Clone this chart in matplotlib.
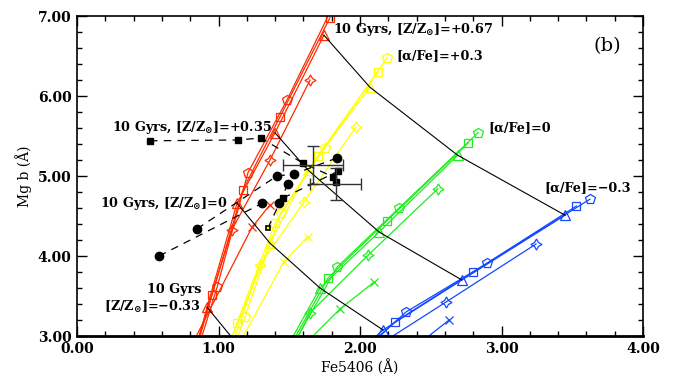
import numpy as np
import matplotlib
matplotlib.use("Agg")
import matplotlib.pyplot as plt
from matplotlib.ticker import MultipleLocator, FormatStrFormatter

plt.rcParams['font.family'] = 'DejaVu Serif'
plt.rcParams['font.weight'] = 'bold'
plt.rcParams['mathtext.fontset'] = 'dejavuserif'

# model grids, one line per age; points run through
# [Z/H] = -0.7 (off plot), -0.33, 0, +0.35, +0.67
# order of lines: 10 Gyr (triangle), square, pentagon, star, cross
red_fe = [[0.80, 0.919, 1.131, 1.399, 1.745],
          [0.82, 0.954, 1.173, 1.435, 1.788],
          [0.84, 0.990, 1.208, 1.484, 1.830],
          [0.72, 0.845, 1.095, 1.364, 1.647],
          [0.55, 0.680, 0.800, 1.237, 1.364]]
red_mg = [[2.55, 3.36, 4.66, 5.54, 6.76],
          [2.70, 3.51, 4.83, 5.74, 6.98],
          [2.75, 3.61, 5.04, 5.95, 7.20],
          [2.30, 2.90, 4.33, 5.20, 6.20],
          [1.80, 2.30, 2.85, 4.36, 4.64]]

yellow_fe = [[0.95, 1.095, 1.364, 1.632, 2.070],
             [0.98, 1.130, 1.400, 1.700, 2.127],
             [1.03, 1.187, 1.440, 1.750, 2.190],
             [0.92, 1.090, 1.293, 1.604, 1.970],
             [0.90, 1.020, 1.130, 1.463, 1.630]]
yellow_mg = [[2.40, 2.98, 4.16, 5.075, 6.11],
             [2.40, 3.16, 4.41, 5.25, 6.30],
             [2.45, 3.24, 4.54, 5.35, 6.475],
             [2.20, 2.85, 3.89, 4.675, 5.61],
             [2.00, 2.45, 2.85, 3.93, 4.24]]

green_fe = [[1.20, 1.45, 1.717, 2.135, 2.690],
            [1.25, 1.50, 1.774, 2.190, 2.763],
            [1.28, 1.53, 1.837, 2.276, 2.834],
            [1.30, 1.45, 1.647, 2.057, 2.550],
            [1.35, 1.50, 1.600, 1.860, 2.100]]
green_mg = [[1.90, 2.75, 3.60, 4.30, 5.26],
            [2.00, 2.85, 3.725, 4.44, 5.41],
            [2.05, 2.90, 3.86, 4.60, 5.54],
            [2.10, 2.60, 3.29, 4.01, 4.84],
            [2.00, 2.50, 2.88, 3.34, 3.675]]

blue_fe = [[1.50, 1.80, 2.163, 2.72, 3.449],
           [1.60, 1.90, 2.247, 2.80, 3.530],
           [1.65, 1.95, 2.325, 2.90, 3.625],
           [1.40, 1.75, 2.100, 2.608, 3.244],
           [1.70, 1.95, 2.150, 2.400, 2.630]]
blue_mg = [[1.70, 2.50, 3.075, 3.70, 4.51],
           [1.80, 2.60, 3.175, 3.80, 4.625],
           [1.85, 2.70, 3.30, 3.91, 4.71],
           [1.70, 2.30, 2.85, 3.425, 4.15],
           [1.90, 2.30, 2.60, 2.88, 3.20]]

# observed gradients (dashed tracks)
sq_track_fe = [0.516, 1.138, 1.30, 1.597, 1.81]
sq_track_mg = [5.44, 5.45, 5.475, 5.16, 4.99]
sq2_track_fe = [1.456, 1.845]
sq2_track_mg = [4.725, 5.06]
circ_a_fe = [0.58, 1.31]
circ_a_mg = [4.00, 4.66]
circ_b_fe = [0.848, 1.413, 1.533, 1.837]
circ_b_mg = [4.34, 5.00, 5.025, 5.225]
circ_c_fe = [1.35, 1.43, 1.49]
circ_c_mg = [4.35, 4.66, 4.90]
extra_sq_fe = [1.83]
extra_sq_mg = [4.925]

# error crosses
err_fe = [1.668, 1.83]
err_mg = [5.14, 4.90]
err_dfe = [0.215, 0.18]
err_dmg = [0.24, 0.20]

star4 = (4, 1, 0)
markers = ['^', 's', 'p', star4, 'x']
msizes = [6.5, 6.0, 7.0, 8.0, 6.0]

fig = plt.figure(figsize=(6.83, 3.78), dpi=100)
ax = fig.add_axes([77/683, 42/378, 566/683, 320/378])

groups = [(red_fe, red_mg, '#ff2a00'),
          (yellow_fe, yellow_mg, '#ffff00'),
          (green_fe, green_mg, '#1eee1e'),
          (blue_fe, blue_mg, '#1448ff')]
for fe, mg, col in groups:
    for k in range(5):
        ax.plot(fe[k], mg[k], color=col, lw=0.9, marker=markers[k],
                ms=msizes[k], mfc='none', mec=col, mew=0.9)

# 10 Gyr lines at fixed metallicity, joining the triangles
for j in range(1, 5):
    xs = [g[0][0][j] for g in groups]
    ys = [g[1][0][j] for g in groups]
    ax.plot(xs, ys, color='black', lw=0.8)

# data
dash = dict(color='black', lw=0.9, ls=(0, (6, 5)))
ax.plot(sq_track_fe, sq_track_mg, marker='s', ms=5, mfc='black', mec='black', **dash)
ax.plot(sq2_track_fe, sq2_track_mg, marker='s', ms=5, mfc='black', mec='black', **dash)
ax.plot(circ_a_fe, circ_a_mg, marker='o', ms=6, mfc='black', mec='black', **dash)
ax.plot(circ_b_fe, circ_b_mg, marker='o', ms=6, mfc='black', mec='black', **dash)
ax.plot(circ_c_fe[1:], circ_c_mg[1:], marker='o', ms=6, mfc='black', mec='black', **dash)
ax.plot(circ_c_fe[:2], circ_c_mg[:2], **dash)
ax.plot(circ_c_fe[:1], circ_c_mg[:1], 's', ms=3.5, mfc='#ffff00', mec='black', mew=1.2)
ax.plot(extra_sq_fe, extra_sq_mg, 's', ms=5, color='black')
ax.errorbar(err_fe, err_mg, xerr=err_dfe, yerr=err_dmg, fmt='none',
            ecolor='#333333', elinewidth=1.0, capsize=4, capthick=1.0)

ax.set_xlim(0, 4)
ax.set_ylim(3, 7)
ax.xaxis.set_major_locator(MultipleLocator(1))
ax.xaxis.set_minor_locator(MultipleLocator(0.2))
ax.yaxis.set_major_locator(MultipleLocator(1))
ax.yaxis.set_minor_locator(MultipleLocator(0.2))
ax.xaxis.set_major_formatter(FormatStrFormatter('%.2f'))
ax.yaxis.set_major_formatter(FormatStrFormatter('%.2f'))
ax.tick_params(which='both', direction='in', top=True, right=True, labelsize=10, width=1.0)
ax.tick_params(which='major', length=7)
ax.tick_params(axis='x', which='major', pad=4)
ax.tick_params(axis='y', which='major', pad=4)
ax.tick_params(which='minor', length=3.5)
for s in ax.spines.values():
    s.set_linewidth(1.2)
ax.spines['bottom'].set_linewidth(2.0)

ax.set_xlabel('Fe5406 (Å)', fontsize=10, labelpad=3)
ax.set_ylabel('Mg b (Å)', fontsize=10, labelpad=4)

fs = 9.2
ax.text(1.81, 6.825, r'10 Gyrs, [Z/Z$_{\odot}$]=+0.67', fontsize=fs, va='center', ha='left')
ax.text(2.26, 6.50, '[α/Fe]=+0.3', fontsize=fs, va='center', ha='left')
ax.text(2.905, 5.61, '[α/Fe]=0', fontsize=fs, va='center', ha='left')
ax.text(3.30, 4.85, '[α/Fe]=\u22120.3', fontsize=fs, va='center', ha='left')
ax.text(1.38, 5.60, r'10 Gyrs, [Z/Z$_{\odot}$]=+0.35', fontsize=fs, va='center', ha='right')
ax.text(1.06, 4.65, r'10 Gyrs, [Z/Z$_{\odot}$]=0', fontsize=fs, va='center', ha='right')
ax.text(0.876, 3.575, '10 Gyrs', fontsize=fs, va='center', ha='right')
ax.text(0.876, 3.36, '[Z/Z$_{\\odot}$]=\u22120.33', fontsize=fs, va='center', ha='right')
ax.text(3.745, 6.625, '(b)', fontsize=14, va='center', ha='center', fontweight='normal')

fig.savefig('out.png', dpi=100)
